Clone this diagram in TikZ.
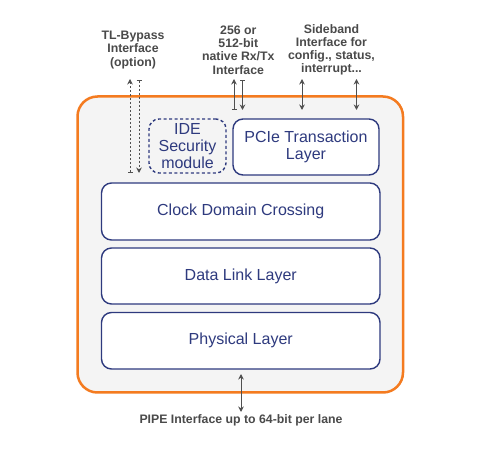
\documentclass[tikz,border=0pt]{standalone}
\usepackage{fontspec}
\setmainfont{Liberation Sans}
\usetikzlibrary{arrows.meta}
\definecolor{navy}{HTML}{2E3A7E}
\definecolor{orng}{HTML}{F47B20}
\definecolor{panel}{HTML}{F4F4F4}
\definecolor{lbl}{HTML}{4A4A4A}
\definecolor{arr}{HTML}{505050}
\begin{document}
\begin{tikzpicture}[x=1pt,y=-1pt,
  layer/.style={draw=navy,line width=1.4pt,rounded corners=10pt,fill=white,text=navy,
    font=\fontsize{16}{17}\selectfont,align=center,inner sep=0pt},
  dlayer/.style={layer,fill=none,dash pattern=on 3pt off 2.5pt},
  extlabel/.style={text=lbl,font=\bfseries\fontsize{12.3}{13.2}\selectfont,align=center,inner sep=0pt},
  conn/.style={draw=arr,line width=1pt},
  dconn/.style={conn,dash pattern=on 2pt off 2pt},
  bartip/.style={{Bar[width=5pt]}-{Stealth[length=5.5pt,width=5.5pt]}},
  bothtip/.style={{Stealth[length=5.5pt,width=5.5pt]}-{Stealth[length=5.5pt,width=5.5pt]}}
]
\useasboundingbox[fill=white] (0,0) rectangle (480,457);

% outer panel
\node[draw=orng,line width=2.5pt,fill=panel,rounded corners=20pt,
  minimum width=325.5pt,minimum height=296pt,inner sep=0pt] (soc) at (240.25,244.5) {};

% blocks
\node[dlayer,minimum width=77pt,minimum height=54pt] (ide) at (187.5,146) {IDE\\Security\\module};
\node[layer,minimum width=146pt,minimum height=56pt] (tl) at (306,147) {PCIe Transaction\\Layer};
\node[layer,minimum width=278.5pt,minimum height=57pt] (cdc) at (240.75,211.5) {Clock Domain Crossing};
\node[layer,minimum width=278.5pt,minimum height=56pt] (dll) at (240.75,276) {Data Link Layer};
\node[layer,minimum width=278.5pt,minimum height=56.5pt] (phy) at (240.75,340.75) {Physical Layer};

% external labels
\node[extlabel] (lbyp) at (133,50) {TL-Bypass\\Interface\\(option)};
\node[extlabel] (lrxtx) at (238.3,50) {256 or\\512-bit\\native Rx/Tx\\Interface};
\node[extlabel] (lside) at (331.5,50) {Sideband\\Interface for\\config., status,\\interrupt...};
\node[extlabel] (lpipe) at (241,420.5) {PIPE Interface up to 64-bit per lane};

% connector end points
\coordinate (byA0) at (130,173);   \coordinate (byA1) at (130,79);
\coordinate (byB0) at (139,80);    \coordinate (byB1) at (139,173);
\coordinate (rxA0) at (234,110);   \coordinate (rxA1) at (234,79);
\coordinate (rxB0) at (242.5,80);  \coordinate (rxB1) at (242.5,110);
\coordinate (sbA0) at (302,79);    \coordinate (sbA1) at (302,110);
\coordinate (sbB0) at (356.5,79);  \coordinate (sbB1) at (356.5,110);
\coordinate (ppA0) at (241,374);   \coordinate (ppA1) at (241,412);

% connectors
\draw[dconn,bartip] (byA0) -- (byA1);
\draw[dconn,bartip] (byB0) -- (byB1);
\draw[conn,bartip] (rxA0) -- (rxA1);
\draw[conn,bartip] (rxB0) -- (rxB1);
\draw[conn,bothtip] (sbA0) -- (sbA1);
\draw[conn,bothtip] (sbB0) -- (sbB1);
\draw[conn,bothtip] (ppA0) -- (ppA1);
\end{tikzpicture}
\end{document}
